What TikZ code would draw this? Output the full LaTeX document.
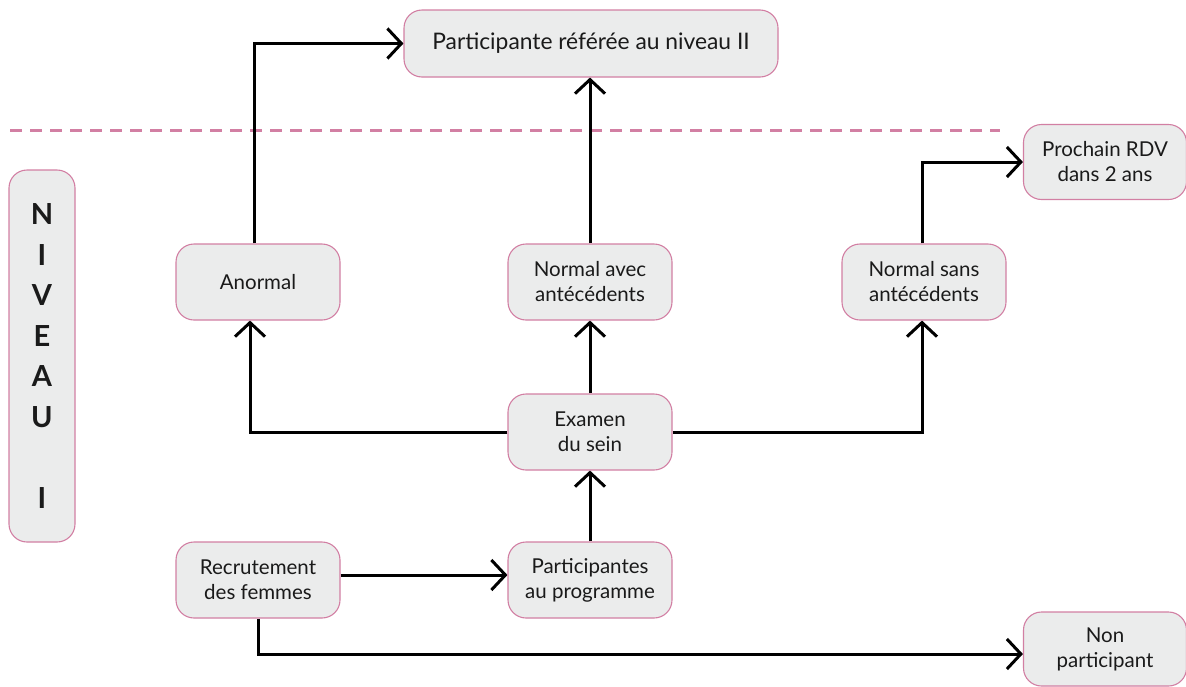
\documentclass[tikz,border=0pt]{standalone}
\usepackage{fontspec}
\setmainfont{Lato}
\usetikzlibrary{arrows.meta}
\definecolor{pinkb}{HTML}{D27FA3}
\definecolor{boxfill}{HTML}{EBECEC}
\definecolor{txt}{HTML}{1A1A1A}
\begin{document}
\begin{tikzpicture}[x=1pt,y=-1pt,
  box/.style={draw=pinkb, line width=1.1pt, fill=boxfill, rounded corners=18pt,
    minimum width=164pt, minimum height=76pt, align=center, inner sep=0pt,
    text=txt, font=\fontsize{20.5}{25}\selectfont},
  conn/.style={line width=3pt, -{Straight Barb[length=14pt,width=30pt]}},
  sep/.style={draw=pinkb, line width=3pt, dash pattern=on 12pt off 8pt}]
\useasboundingbox (0,0) rectangle (1186,686);
% separator
\coordinate (s1) at (10,130);
\coordinate (s2) at (1000,130);
\draw[sep] (s1) -- (s2);
% nodes
\node[box, minimum width=374pt, minimum height=67pt, font=\fontsize{22.8}{26}\selectfont] (top) at (591,43.5) {Participante référée au niveau II};
\node[box, minimum width=66pt, minimum height=372pt, font=\fontsize{29}{40.5}\selectfont\bfseries] (niv) at (42,356) {N\\I\\V\\E\\A\\U\\\strut\\I};
\node[box] (anormal) at (258,282) {Anormal};
\node[box] (navec) at (590,282) {Normal avec\\antécédents};
\node[box] (nsans) at (924,282) {Normal sans\\antécédents};
\node[box] (exam) at (590,432) {Examen\\du sein};
\node[box] (part) at (590,580) {Participantes\\au programme};
\node[box] (recr) at (258,580) {Recrutement\\des femmes};
\node[box, minimum width=163pt, minimum height=75pt] (rdv) at (1105,162) {Prochain RDV\\dans 2 ans};
\node[box, minimum width=163pt, minimum height=74pt] (nonp) at (1105,649) {Non\\participant};
% connectors
\draw[conn] ([xshift=-4pt]anormal.north) |- (top.west);
\draw[conn] (navec.north) -- (navec.north |- top.south);
\draw[conn] ([xshift=-2pt]nsans.north) |- (rdv.west);
\draw[conn] (exam.west) -| ([xshift=-8pt]anormal.south);
\draw[conn] (exam.north) -- (navec.south);
\draw[conn] (exam.east) -| ([xshift=-2pt]nsans.south);
\draw[conn] (part.north) -- (exam.south);
\draw[conn] ([yshift=5pt]recr.east) -- ([yshift=5pt]part.west);
\draw[conn] (recr.south) |- ([yshift=-5pt]nonp.west);
\end{tikzpicture}
\end{document}
